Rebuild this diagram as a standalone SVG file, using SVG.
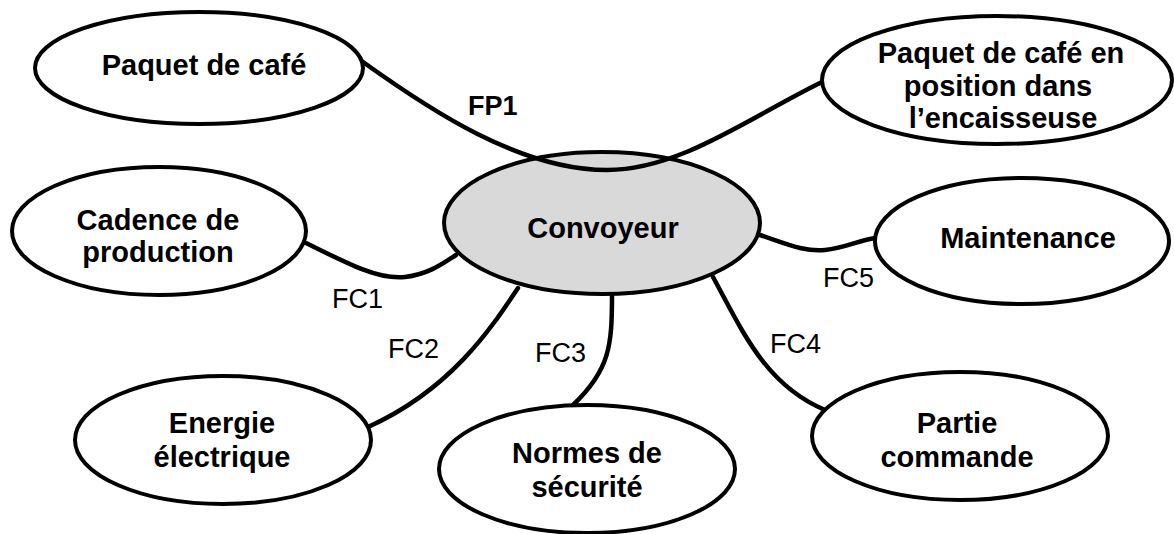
<svg xmlns="http://www.w3.org/2000/svg" width="1174" height="534" viewBox="0 0 1174 534">
<style>
.n{fill:#fff;stroke:#000;stroke-width:4}
.c{fill:#d9d9d9;stroke:#000;stroke-width:4}
.l{fill:none;stroke:#000;stroke-width:4.5;stroke-linecap:round}
.t{font-family:"Liberation Sans",Arial,sans-serif;font-weight:bold;font-size:29px;text-anchor:middle;fill:#000}
.f{font-family:"Liberation Sans",Arial,sans-serif;font-size:27px;fill:#000}
</style>
<rect width="1174" height="534" fill="#fff"/>
<g id="convoyeur"><ellipse class="c" cx="602" cy="223" rx="158" ry="71"/><text class="t" x="603" y="238">Convoyeur</text></g>
<g id="connectors">
<path class="l" d="M363,62 C430,110 520,170 607,170 C680,170 750,117 822,82"/>
<path class="l" d="M306,243 C350,265 380,280 405,277 C430,274 445,262 456,255"/>
<path class="l" d="M760,235 C790,245 805,252 825,250 C845,248 860,240 875,238"/>
<path class="l" d="M713,277 C742,330 765,385 825,410"/>
<path class="l" d="M612,295 C612,345 610,370 573,405"/>
<path class="l" d="M518,288 C490,330 450,390 368,427"/>
<text class="f" x="468" y="115" font-weight="bold">FP1</text>
<text class="f" x="332" y="308">FC1</text>
<text class="f" x="388" y="358">FC2</text>
<text class="f" x="535" y="362">FC3</text>
<text class="f" x="770" y="353">FC4</text>
<text class="f" x="823" y="287">FC5</text>
</g>
<g id="paquet"><ellipse class="n" cx="199" cy="68" rx="164" ry="56"/><text class="t" x="204" y="75">Paquet de café</text></g>
<g id="paquet-position"><ellipse class="n" cx="997" cy="80" rx="175" ry="64"/><text class="t" x="1001" y="63">Paquet de café en</text><text class="t" x="998" y="96">position dans</text><text class="t" x="1003" y="128">l’encaisseuse</text></g>
<g id="cadence"><ellipse class="n" cx="159" cy="231" rx="147" ry="64"/><text class="t" x="158" y="230">Cadence de</text><text class="t" x="158" y="262">production</text></g>
<g id="maintenance"><ellipse class="n" cx="1022" cy="241" rx="147" ry="63"/><text class="t" x="1028" y="248">Maintenance</text></g>
<g id="energie"><ellipse class="n" cx="223" cy="440" rx="148" ry="64"/><text class="t" x="222" y="433">Energie</text><text class="t" x="222" y="467">électrique</text></g>
<g id="normes"><ellipse class="n" cx="587" cy="469" rx="148" ry="64"/><text class="t" x="587" y="463">Normes de</text><text class="t" x="587" y="497">sécurité</text></g>
<g id="partie"><ellipse class="n" cx="960" cy="436" rx="148" ry="64"/><text class="t" x="957" y="433">Partie</text><text class="t" x="957" y="467">commande</text></g>
</svg>
